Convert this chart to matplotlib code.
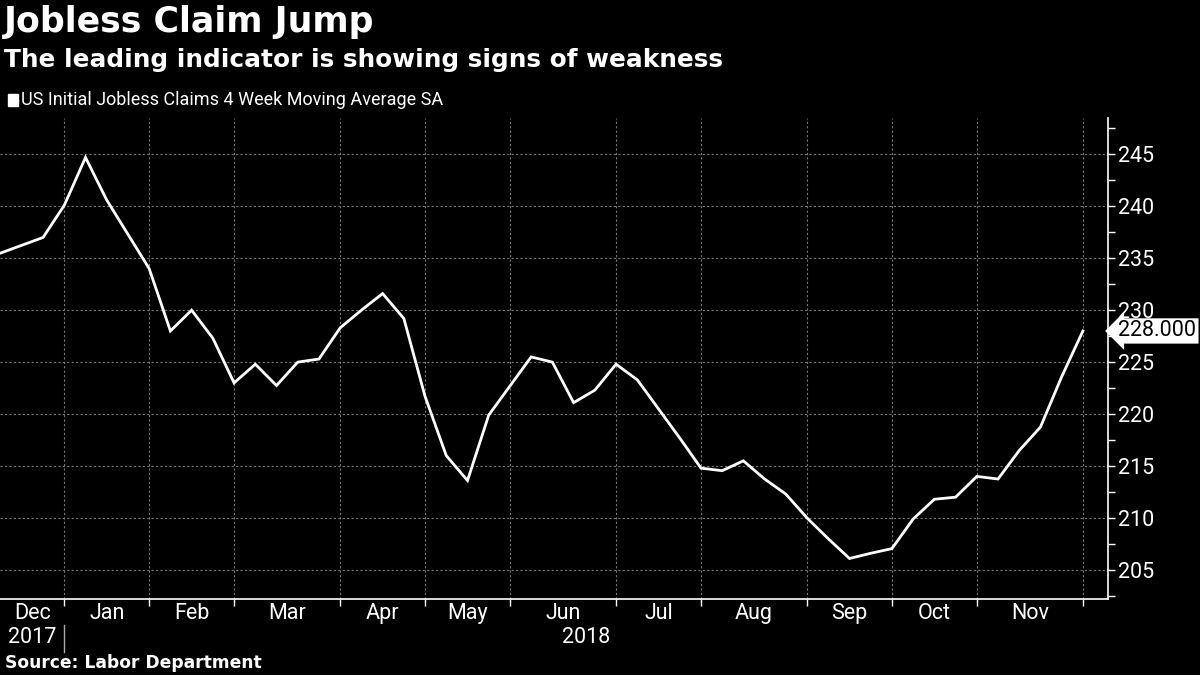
import matplotlib
matplotlib.use('Agg')
import matplotlib.pyplot as plt
import matplotlib.transforms as mtransforms
from matplotlib.lines import Line2D
from matplotlib.patches import Rectangle

plt.rcParams['font.family'] = ['Roboto', 'DejaVu Sans']

title = 'Jobless Claim Jump'
subtitle = 'The leading indicator is showing signs of weakness'
series_name = 'US Initial Jobless Claims 4 Week Moving Average SA'
source = 'Source: Labor Department'

# weekly 4-week moving average, thousands (Dec 2017 - Nov 2018)
claims = [235.5, 236.25, 237.0, 240.1, 244.7, 240.6, 237.3, 234.0, 228.0, 230.0,
          227.3, 223.0, 224.8, 222.75, 225.0, 225.3, 228.3, 230.0, 231.6, 229.2,
          221.7, 216.0, 213.6, 219.9, 222.7, 225.5, 225.0, 221.1, 222.3, 224.8,
          223.3, 220.5, 217.7, 214.8, 214.55, 215.5, 213.75, 212.3, 210.0, 208.0,
          206.1, 206.6, 207.05, 209.9, 211.8, 212.0, 214.0, 213.75, 216.5, 218.75,
          223.6, 228.0]
months = ['Dec', 'Jan', 'Feb', 'Mar', 'Apr', 'May', 'Jun', 'Jul', 'Aug', 'Sep', 'Oct', 'Nov']
# week index where each month starts (gridlines)
month_starts = [3, 7, 11, 16, 20, 24, 29, 33, 38, 42, 46, 51]
years = ['2017', '2018']
yticks = [205, 210, 215, 220, 225, 230, 235, 240, 245]

fig = plt.figure(figsize=(12, 6.75), dpi=100, facecolor='black')
ax = fig.add_axes([0, 0.1126, 0.9233, 0.7126])
ax.set_facecolor('black')

ax.plot(range(len(claims)), claims, color='white', lw=2, solid_joinstyle='miter')
ax.set_xlim(-0.03, 52.18)
ax.set_ylim(202.2, 248.5)

ax.yaxis.tick_right()
ax.set_yticks(yticks)
ax.set_yticks([v + 2.5 for v in [200] + yticks], minor=True)
ax.tick_params(axis='y', which='both', colors='white', direction='out', length=5,
               width=1, labelsize=15.5, pad=2)
ax.set_xticks(month_starts)
ax.set_xticklabels([])
ax.tick_params(axis='x', colors='white', direction='out', length=5, width=1)

ax.grid(True, which='major', color='#777777', ls=(0, (2, 2)), lw=0.8)
for s in ['left', 'top']:
    ax.spines[s].set_visible(False)
for s in ['right', 'bottom']:
    ax.spines[s].set_color('white')
    ax.spines[s].set_linewidth(1.2)

# month labels centred between month starts
trans = mtransforms.blended_transform_factory(ax.transData, ax.transAxes)
bounds = [0] + month_starts + [52.18]
for i, m in enumerate(months):
    c = (bounds[i] + bounds[i + 1]) / 2
    ax.text(c, -0.03, m, transform=trans, ha='center', va='center',
            color='white', fontsize=15.5)
ax.text((bounds[0] + bounds[1]) / 2, -0.08, years[0], transform=trans,
        ha='center', va='center', color='white', fontsize=15.5)
ax.text((bounds[1] + bounds[-1]) / 2, -0.08, years[1], transform=trans,
        ha='center', va='center', color='white', fontsize=15.5)
fig.add_artist(Line2D([64 / 1200, 64 / 1200], [0.034, 0.074], color='#aaaaaa', lw=1))

# last value tag
ax.annotate(f'{claims[-1]:.3f}', xy=(1.0, claims[-1]), xycoords=('axes fraction', 'data'),
            xytext=(7.5, 0), textcoords='offset points', ha='left', va='center',
            color='black', fontsize=15.5,
            bbox=dict(boxstyle='larrow,pad=0.1', fc='white', ec='none'),
            annotation_clip=False)

fig.text(0.003, 0.967, title, color='white', fontsize=25, fontweight='bold',
         family='DejaVu Sans', ha='left', va='center')
fig.text(0.003, 0.911, subtitle, color='white', fontsize=17.8, fontweight='bold',
         family='DejaVu Sans', ha='left', va='center')
fig.add_artist(Rectangle((8 / 1200, 1 - 106 / 675), 10 / 1200, 12 / 675,
                         transform=fig.transFigure, color='white'))
fig.text(21 / 1200, 1 - 100 / 675, series_name, color='white', fontsize=13,
         ha='left', va='center')
fig.text(0.004, 0.018, source, color='white', fontsize=12.3, fontweight='bold',
         family='DejaVu Sans', ha='left', va='center')

fig.savefig('out.png', dpi=100, facecolor='black')
